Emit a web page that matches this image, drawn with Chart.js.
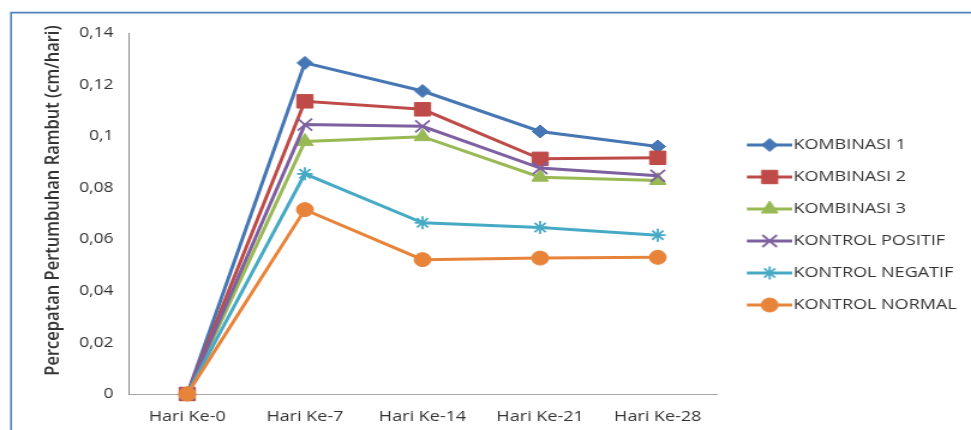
<!DOCTYPE html>
<html>
<head>
<meta charset="utf-8">
<script src="https://cdn.jsdelivr.net/npm/chart.js@4.4.1/dist/chart.umd.min.js"></script>
<style>
  html, body { margin: 0; padding: 0; background: #ffffff; overflow: hidden; }
  /* the chart is laid out on a narrower canvas and widened to the page width */
  #wrap { width: 809px; height: 430px; transform: scaleX(1.2003); transform-origin: 0 0; }
</style>
</head>
<body>
<div id="wrap"><canvas id="c" width="809" height="430"></canvas></div>
<script>
const categories = ['Hari Ke-0', 'Hari Ke-7', 'Hari Ke-14', 'Hari Ke-21', 'Hari Ke-28'];

const kombinasi1     = [0, 0.1284, 0.1175, 0.1018, 0.0960];
const kombinasi2     = [0, 0.1135, 0.1104, 0.0912, 0.0916];
const kombinasi3     = [0, 0.0979, 0.0998, 0.0841, 0.0828];
const kontrolPositif = [0, 0.1045, 0.1038, 0.0876, 0.0846];
const kontrolNegatif = [0, 0.0854, 0.0664, 0.0646, 0.0616];
const kontrolNormal  = [0, 0.0715, 0.0521, 0.0527, 0.0530];

const seriesNames = ['KOMBINASI 1', 'KOMBINASI 2', 'KOMBINASI 3', 'KONTROL POSITIF', 'KONTROL NEGATIF', 'KONTROL NORMAL'];
const yTickLabels = ['0', '0,02', '0,04', '0,06', '0,08', '0,1', '0,12', '0,14'];
const yTitle = 'Percepatan Pertumbuhan Rambut (cm/hari)';

const FONT = '"Open Sans", "Noto Sans", sans-serif';
const TEXT = '#333333';

function series(label, data, color, pointStyle, radius, filled, order) {
  return {
    label, data, order,
    borderColor: color,
    backgroundColor: color,
    borderWidth: 3,
    tension: 0,
    pointStyle,
    pointRadius: radius,
    pointHoverRadius: radius,
    pointBackgroundColor: color,
    pointBorderColor: color,
    pointBorderWidth: filled ? 1 : 1.8,
    clip: false
  };
}

const datasets = [
  series(seriesNames[0], kombinasi1,     '#4677B4', 'rectRot',  6.5, true,  6),
  series(seriesNames[1], kombinasi2,     '#BE4B48', 'rect',     9.5, true,  5),
  series(seriesNames[2], kombinasi3,     '#98B954', 'triangle', 8,   true,  4),
  series(seriesNames[3], kontrolPositif, '#7D60A0', 'crossRot', 8.5, false, 3),
  series(seriesNames[4], kontrolNegatif, '#46AAC5', 'star',     6.5, false, 2),
  series(seriesNames[5], kontrolNormal,  '#E8843A', 'circle',   7,   true,  1)
];

// legend swatch: a short line with the series marker on it
function swatch(ds) {
  const c = document.createElement('canvas');
  c.width = 53; c.height = 22;
  const g = c.getContext('2d');
  g.strokeStyle = ds.borderColor;
  g.lineWidth = 3;
  g.beginPath(); g.moveTo(15, 11); g.lineTo(53, 11); g.stroke();
  g.fillStyle = ds.pointBackgroundColor;
  g.strokeStyle = ds.pointBorderColor;
  g.lineWidth = ds.pointBorderWidth;
  Chart.helpers.drawPoint(g, {
    pointStyle: ds.pointStyle, radius: ds.pointRadius, rotation: 0, borderWidth: ds.pointBorderWidth
  }, 34, 11);
  return c;
}
const swatches = datasets.map(swatch);

const framePlugin = {
  id: 'frame',
  beforeDraw(chart) {
    const ctx = chart.ctx;
    ctx.save();
    ctx.strokeStyle = '#4F81BD';
    ctx.lineWidth = 1.6;
    ctx.beginPath();
    ctx.moveTo(9.2, 440);
    ctx.lineTo(9.2, 12.6);
    ctx.lineTo(830, 12.6);
    ctx.stroke();
    ctx.restore();
  }
};

// legend block sits a little below the middle of the plot area and may run to the canvas edge
const legendOffsetPlugin = {
  id: 'legendOffset',
  afterLayout(chart) {
    const lg = chart.legend;
    if (lg) {
      lg.top += 11.5;
      lg.bottom += 11.5;
      lg.right = chart.width;
      lg.width = lg.right - lg.left;
    }
  }
};

const axisTitlePlugin = {
  id: 'axisTitle',
  afterDraw(chart) {
    const ca = chart.chartArea;
    const ctx = chart.ctx;
    ctx.save();
    ctx.translate(44.6, (ca.top + ca.bottom) / 2 - 13);
    ctx.rotate(-Math.PI / 2);
    ctx.font = '600 16.5px ' + FONT;
    ctx.fillStyle = TEXT;
    ctx.textAlign = 'center';
    ctx.textBaseline = 'middle';
    ctx.fillText(yTitle, 0, 0);
    ctx.restore();
  }
};

new Chart(document.getElementById('c'), {
  type: 'line',
  data: { labels: categories, datasets },
  plugins: [framePlugin, legendOffsetPlugin, axisTitlePlugin],
  options: {
    responsive: false,
    animation: false,
    devicePixelRatio: 1,
    layout: { padding: { top: 33, bottom: -10, left: 0, right: 13 } },
    plugins: {
      tooltip: { enabled: false },
      legend: {
        position: 'right',
        fullSize: false,
        labels: {
          usePointStyle: true,
          pointStyleWidth: 39.5,
          padding: 17,
          color: TEXT,
          font: { family: FONT, size: 15 },
          generateLabels: chart => chart.data.datasets.map((ds, i) => ({
            text: ds.label,
            pointStyle: swatches[i],
            fillStyle: ds.borderColor,
            strokeStyle: ds.borderColor,
            lineWidth: 0,
            fontColor: TEXT,
            hidden: false,
            datasetIndex: i
          }))
        }
      }
    },
    scales: {
      x: {
        type: 'category',
        offset: true,
        grid: { display: false, drawTicks: false },
        border: { display: true, color: '#a6a6a6', width: 1 },
        ticks: {
          padding: 14,
          color: TEXT,
          maxRotation: 0,
          autoSkip: false,
          font: { family: FONT, size: 15 }
        }
      },
      y: {
        min: 0,
        max: 0.14,
        grid: { display: false, drawTicks: false },
        border: { display: true, color: '#868686', width: 1 },
        ticks: {
          stepSize: 0.02,
          padding: 12.5,
          color: TEXT,
          font: { family: FONT, size: 14.5 },
          callback: (v, i) => yTickLabels[i]
        },
        afterFit: scale => { scale.width = 107; }
      }
    }
  }
});
</script>
</body>
</html>
